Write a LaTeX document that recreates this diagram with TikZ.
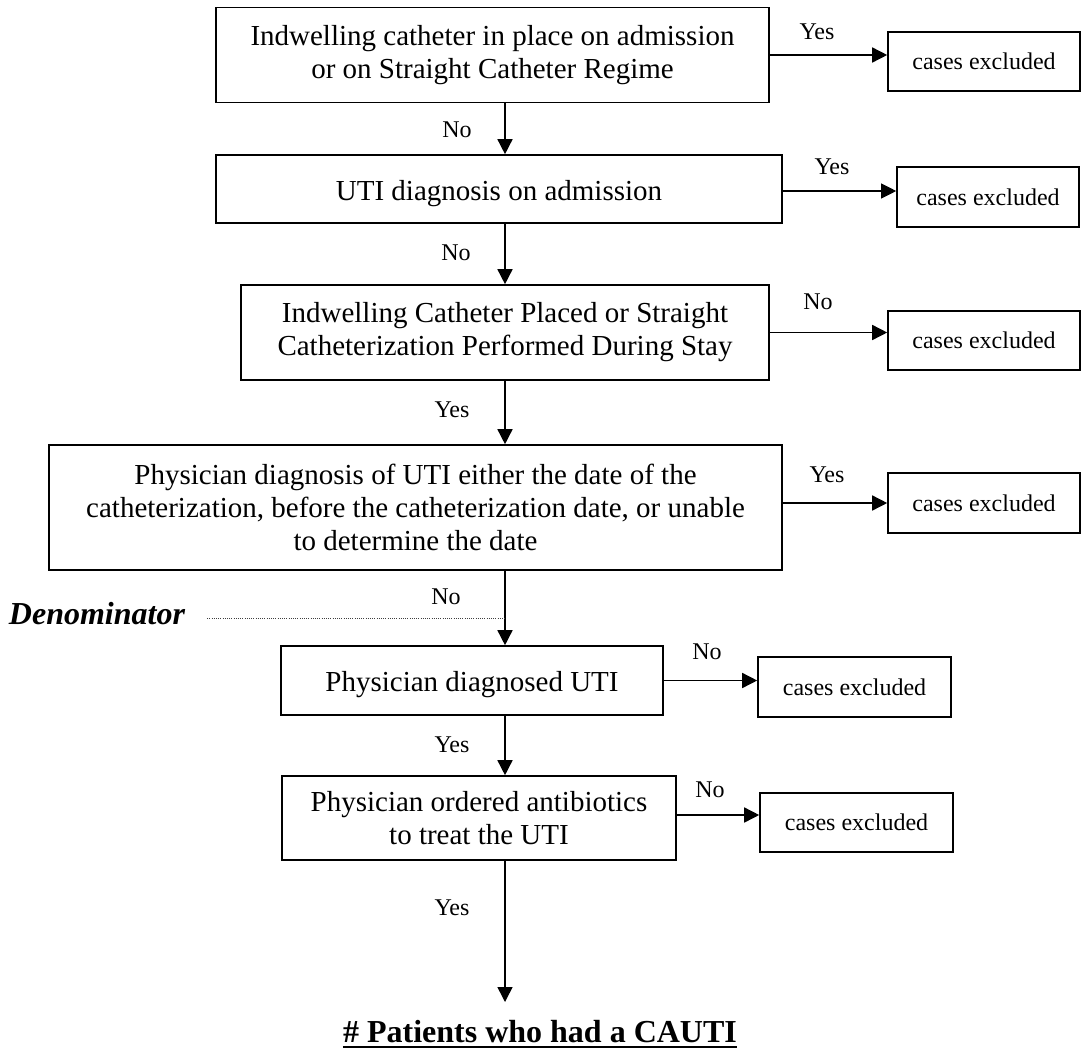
\documentclass[tikz,border=0pt]{standalone}
\usepackage{fontspec}
\setmainfont{Liberation Serif}
\usetikzlibrary{arrows.meta}
\begin{document}
\begin{tikzpicture}[x=1pt,y=-1pt,
  stepbox/.style={draw, line width=1.6pt, inner sep=0pt, align=center,
    font=\fontsize{29}{33}\selectfont},
  oneline/.style={text height=22pt, text depth=0pt},
  exclbox/.style={draw, line width=1.6pt, inner sep=0pt,
    minimum width=192pt, minimum height=59pt,
    font=\fontsize{24}{28}\selectfont},
  lbl/.style={font=\fontsize{24}{28}\selectfont, inner sep=0pt},
  flow/.style={line width=1.5pt, -{Triangle[length=15pt,width=15pt]}},
  guide/.style={line width=0.9pt, black!75, dash pattern=on 1pt off 1.2pt},
]
\useasboundingbox (0,0) rectangle (1081,1049);
\coordinate (spine) at (505,0);

% decision steps
\node[stepbox, minimum width=553pt, minimum height=95pt] (b1) at (492.5,55)
  {Indwelling catheter in place on admission\\or on Straight Catheter Regime};
\node[stepbox, oneline, minimum width=566pt, minimum height=68pt] (b2) at (499,189)
  {UTI diagnosis on admission};
\node[stepbox, minimum width=528pt, minimum height=95pt] (b3) at (505,332.5)
  {Indwelling Catheter Placed or Straight\\Catheterization Performed During Stay};
\node[stepbox, minimum width=733pt, minimum height=125pt] (b4) at (415.5,507.5)
  {Physician diagnosis of UTI either the date of the\\catheterization, before the catheterization date, or unable\\to determine the date};
\node[stepbox, oneline, minimum width=382pt, minimum height=69pt] (b5) at (472,680.5)
  {Physician diagnosed UTI};
\node[stepbox, minimum width=394pt, minimum height=84pt] (b6) at (479,818)
  {Physician ordered antibiotics\\to treat the UTI};

% exclusion boxes
\node[exclbox] (e1) at (984,61.5) {cases excluded};
\node[exclbox, minimum width=182pt, minimum height=60pt] (e2) at (988,197) {cases excluded};
\node[exclbox] (e3) at (984,340.5) {cases excluded};
\node[exclbox, minimum height=60pt] (e4) at (984,503) {cases excluded};
\node[exclbox, minimum width=193pt, minimum height=60pt] (e5) at (854.5,687) {cases excluded};
\node[exclbox, minimum width=193pt] (e6) at (856.5,822.5) {cases excluded};

% outcome
\node[inner sep=0pt, anchor=base, font=\fontsize{32}{36}\selectfont\bfseries] (res) at (540,1042)
  {\# Patients who had a CAUTI};
\draw[line width=2.4pt] ([yshift=-5pt]res.base west) -- ([yshift=-5pt]res.base east);
\coordinate (resin) at (505,1002);

% main flow
\draw[flow] (b1.south -| spine) -- (b2.north -| spine);
\draw[flow] (b2.south -| spine) -- (b3.north -| spine);
\draw[flow] (b3.south -| spine) -- (b4.north -| spine);
\draw[flow] (b4.south -| spine) -- (b5.north -| spine);
\draw[flow] (b5.south -| spine) -- (b6.north -| spine);
\draw[flow] (b6.south -| spine) -- (resin);

% exclusions
\draw[flow] (b1.east) -- (b1.east -| e1.west);
\draw[flow, line width=1.1pt] ([yshift=-2pt]b2.east) -- ([yshift=-2pt]b2.east -| e2.west);
\draw[flow] (b3.east) -- (b3.east -| e3.west);
\draw[flow] ([yshift=4.5pt]b4.east) -- ([yshift=4.5pt]b4.east -| e4.west);
\draw[flow] (b5.east) -- (b5.east -| e5.west);
\draw[flow] ([yshift=3pt]b6.east) -- ([yshift=3pt]b6.east -| e6.west);

% branch labels
\node[lbl] (l1) at (457,130) {No};
\node[lbl] (l2) at (456,253) {No};
\node[lbl] (l3) at (452,410) {Yes};
\node[lbl] (l4) at (446,597) {No};
\node[lbl] (l5) at (452,745) {Yes};
\node[lbl] (l6) at (452,908) {Yes};
\node[lbl] (r1) at (817,32) {Yes};
\node[lbl] (r2) at (832,167) {Yes};
\node[lbl] (r3) at (818,302) {No};
\node[lbl] (r4) at (827,475) {Yes};
\node[lbl] (r5) at (707,652) {No};
\node[lbl] (r6) at (710,790) {No};

% denominator marker
\node[inner sep=0pt, font=\fontsize{32}{36}\selectfont\bfseries\itshape] (den) at (97,614) {Denominator};
\draw[guide] ([xshift=22pt,yshift=-4pt]den.east) -- ([yshift=-4pt]den.east -| spine);
\end{tikzpicture}
\end{document}
